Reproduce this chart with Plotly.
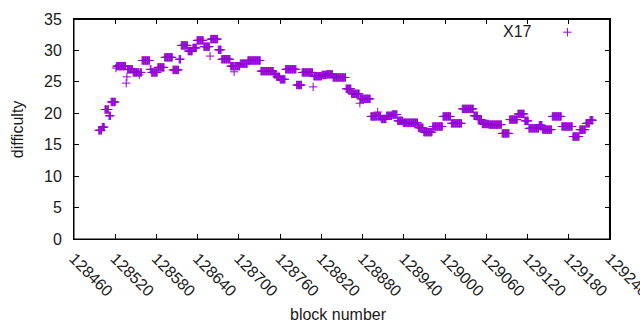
import plotly.graph_objects as go

# Difficulty per block, stored as runs: each run starts at run_start[i]
# and lasts until the next run starts (last run ends at last_block).
run_start = [128496, 128501, 128505, 128511, 128514, 128521, 128522, 128536, 128537, 128538,
             128546, 128555, 128556, 128559, 128571, 128573, 128582, 128592, 128604, 128613,
             128616, 128626, 128633, 128639, 128649, 128658, 128659, 128670, 128675, 128688,
             128693, 128694, 128702, 128713, 128732, 128751, 128755, 128760, 128768, 128784,
             128792, 128808, 128809, 128821, 128828, 128837, 128856, 128864, 128876, 128877,
             128892, 128902, 128903, 128907, 128915, 128923, 128931, 128939, 128961, 128969,
             128982, 128997, 129009, 129025, 129042, 129048, 129054, 129064, 129083, 129094,
             129106, 129116, 129122, 129137, 129142, 129156, 129170, 129186, 129196, 129205,
             129211]
run_value = [17.3, 17.8, 20.6, 19.6, 21.8, 27.2, 27.5, 24.8, 25.8, 27.0,
             26.5, 26.1, 26.5, 28.4, 27.0, 26.5, 27.3, 28.9, 26.9, 28.6,
             30.8, 29.9, 30.4, 31.6, 30.6, 29.1, 31.8, 30.1, 28.6, 27.5,
             26.6, 27.5, 27.9, 28.4, 26.7, 26.2, 25.8, 25.4, 27.0, 24.5,
             26.5, 24.2, 25.9, 26.1, 26.2, 25.7, 23.9, 23.1, 21.6, 22.3,
             19.5, 20.2, 19.5, 19.1, 19.6, 19.8, 18.8, 18.5, 17.7, 17.0,
             17.9, 19.5, 18.4, 20.7, 19.6, 19.0, 18.3, 18.2, 16.8, 19.0,
             19.9, 18.8, 17.6, 18.1, 17.4, 19.5, 17.9, 16.3, 17.4, 18.4,
             18.9]
last_block = 129215

x_ticks = list(range(128460, 129241, 60))
x_tick_labels = [str(v) for v in x_ticks]
y_ticks = [0, 5, 10, 15, 20, 25, 30, 35]

# key sample position (data coordinates, top-right inside the plot)
key_x = [129178]
key_y = [32.9]

blocks, diffs = [], []
for i, s in enumerate(run_start):
    e = run_start[i + 1] if i + 1 < len(run_start) else last_block + 1
    for b in range(s, e):
        blocks.append(b)
        diffs.append(run_value[i])

COLOR = "#9400D3"
FONT = "Liberation Sans, Arial, sans-serif"
FS = 16
XR = [128460, 129240]
YR = [0, 35]
marker = dict(symbol="cross-thin", size=6, color=COLOR, line=dict(color=COLOR, width=1))

fig = go.Figure()
fig.add_trace(go.Scatter(x=blocks, y=diffs, mode="markers", marker=marker,
                         showlegend=False, hoverinfo="skip"))
fig.add_trace(go.Scatter(x=key_x, y=key_y, mode="markers", marker=marker,
                         showlegend=False, hoverinfo="skip"))

axis_common = dict(showline=True, linecolor="black", linewidth=1, mirror="allticks",
                   ticks="inside", ticklen=5, tickcolor="black", tickwidth=1,
                   showgrid=False, zeroline=False, automargin=False,
                   tickfont=dict(family=FONT, size=FS, color="#1a1a1a"))

fig.update_layout(
    width=640, height=330,
    margin=dict(l=74, r=30, t=19, b=91),
    paper_bgcolor="white", plot_bgcolor="white",
    showlegend=False,
    xaxis=dict(range=[XR[0] - 0.01, XR[1] + 0.01], tickvals=x_ticks, ticktext=x_tick_labels,
               tickangle=45, ticklabelstandoff=3, ticklabeloverflow="allow",
               **axis_common),
    yaxis=dict(range=YR, tickvals=y_ticks, ticklabelstandoff=8, **axis_common),
    shapes=[
        dict(type="line", xref="paper", yref="paper", x0=0, y0=0.998, x1=1, y1=0.998,
             line=dict(color="black", width=1), layer="above"),
        dict(type="line", xref="paper", yref="paper", x0=0.999, y0=0, x1=0.999, y1=1,
             line=dict(color="black", width=1), layer="above"),
        dict(type="rect", xref="paper", yref="paper", x0=0, y0=0, x1=1, y1=1,
             line=dict(color="black", width=1), fillcolor="rgba(0,0,0,0)",
             layer="above"),
    ],
    annotations=[
        dict(text="difficulty", xref="paper", yref="paper", x=-0.106, y=0.5,
             textangle=-90, showarrow=False, xanchor="center", yanchor="middle",
             font=dict(family=FONT, size=FS, color="#1a1a1a")),
        dict(text="block number", xref="paper", yref="paper", x=0.494, y=-0.345,
             showarrow=False, xanchor="center", yanchor="middle",
             font=dict(family=FONT, size=FS, color="#1a1a1a")),
        dict(text="X17", xref="paper", yref="paper", x=0.858, y=0.941,
             showarrow=False, xanchor="right", yanchor="middle",
             font=dict(family=FONT, size=FS, color="#1a1a1a")),
    ],
)

fig.write_html("out.html", config={"displayModeBar": False},
               post_script="document.body.style.margin='0';document.body.style.overflow='hidden';")
